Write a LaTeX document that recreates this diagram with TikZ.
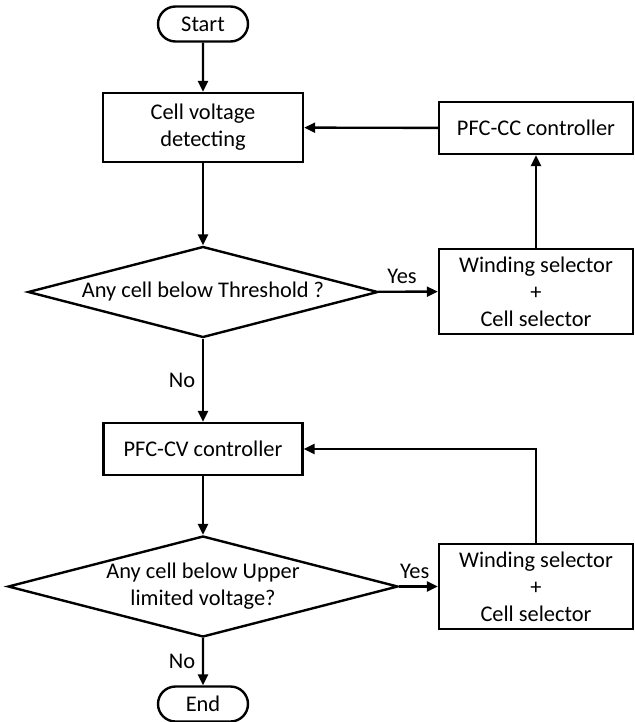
\documentclass[tikz,border=0pt]{standalone}
\usepackage{fontspec}
\setmainfont{Carlito}
\usepackage{tikz}
\usetikzlibrary{shapes.geometric, shapes.misc, arrows.meta, positioning, calc}

\begin{document}
\begin{tikzpicture}[
    x=0.5pt, y=-0.5pt,
    every node/.style={font=\fontsize{11.2}{13.5}\selectfont},
    terminal/.style={rounded rectangle, draw, line width=1.2pt, minimum width=45pt, minimum height=17.5pt, inner sep=0pt},
    process/.style={rectangle, draw, line width=1.2pt, align=center, inner sep=0pt},
    decision/.style={diamond, draw, line width=1.2pt, align=center, aspect=3.85, inner sep=0pt},
    flow/.style={-{Triangle[length=5.5pt, width=5pt]}, line width=1.2pt}
]
    \useasboundingbox (0,0) rectangle (634,722);

    \node[terminal] (start) at (203,24) {Start};
    \node[process, minimum width=100pt, minimum height=34.5pt] (detect) at (203,127.5) {Cell voltage\\detecting};
    \node[process, minimum width=97pt, minimum height=26pt] (cc) at (536,128) {PFC-CC controller};
    \node[decision, minimum width=175pt, minimum height=45.5pt] (q1) at (203,292) {Any cell below Threshold ?};
    \node[process, minimum width=97pt, minimum height=42.5pt] (wsel1) at (536,291.5) {Winding selector\\+\\Cell selector};
    \node[process, minimum width=99.5pt, minimum height=26pt] (cv) at (203,449) {PFC-CV controller};
    \node[decision, minimum width=195pt, minimum height=50.5pt] (q2) at (203,586.5) {Any cell below Upper\\limited voltage?};
    \node[process, minimum width=97pt, minimum height=42.5pt] (wsel2) at (536,586.5) {Winding selector\\+\\Cell selector};
    \node[terminal] (stop) at (203,704) {End};

    % main flow
    \draw[flow] (start) -- (detect);
    \draw[flow] (detect) -- (q1);
    \draw[flow] (q1) -- node[left]{No} (cv);
    \draw[flow] (cv) -- (q2);
    \draw[flow] (q2) -- node[left]{No} (stop);

    % constant current loop
    \draw[flow] (q1) -- node[above, pos=0.4]{Yes} (wsel1);
    \draw[flow] (wsel1) -- (cc);
    \draw[flow] (cc) -- (detect);

    % constant voltage loop
    \draw[flow] (q2) -- node[above, pos=0.4]{Yes} (wsel2);
    \draw[flow] (wsel2) |- (cv);

\end{tikzpicture}
\end{document}
